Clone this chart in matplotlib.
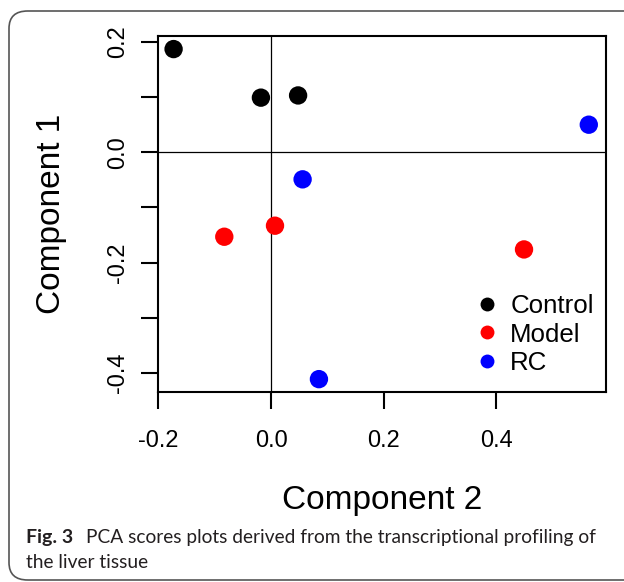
import matplotlib
matplotlib.use("Agg")
import matplotlib.pyplot as plt
from matplotlib.patches import FancyBboxPatch
from matplotlib.lines import Line2D

# Data (Component 2 on x, Component 1 on y)
groups = ["Control", "Model", "RC"]
colors = ["#000000", "#ff0000", "#0000ff"]
control_x = [-0.173, -0.018, 0.048]
control_y = [0.187, 0.099, 0.103]
model_x = [-0.083, 0.007, 0.449]
model_y = [-0.153, -0.133, -0.176]
rc_x = [0.056, 0.564, 0.085]
rc_y = [-0.049, 0.050, -0.411]
xticks = [-0.2, 0.0, 0.2, 0.4]
yticks_all = [-0.4, -0.3, -0.2, -0.1, 0.0, 0.1, 0.2]

W, H = 624, 582
fig = plt.figure(figsize=(W / 100, H / 100), dpi=100)
fig.patch.set_facecolor("white")

# rounded frame around figure
frame = FancyBboxPatch((9 / W, 2 / H), (W + 40) / W, (H - 11 - 2) / H,
                       boxstyle="round,pad=0,rounding_size=0.03",
                       transform=fig.transFigure, fill=False,
                       edgecolor="#555555", linewidth=1.2, clip_on=False)
fig.patches.append(frame)

ax = fig.add_axes([157.7 / W, (H - 392) / H, (605.7 - 157.7) / W, (392 - 36) / H])
font = "Liberation Sans"

xs = [control_x, model_x, rc_x]
ys = [control_y, model_y, rc_y]
for gx, gy, c in zip(xs, ys, colors):
    ax.scatter(gx, gy, s=175, color=c, edgecolors="none", zorder=3)

ax.axhline(0, color="black", lw=0.9, zorder=1)
ax.axvline(0, color="black", lw=0.9, zorder=1)

ax.set_xlim(-0.2012, 0.594)
ax.set_ylim(-0.4343, 0.2107)

ax.set_xticks(xticks)
ax.set_xticklabels(["%.1f" % v for v in xticks], fontsize=17, family=font)
ax.set_yticks(yticks_all)
ax.set_yticklabels(["%.1f" % v if round(v * 10) % 2 == 0 else "" for v in yticks_all],
                   fontsize=17, family=font, rotation=90, va="center")
ax.tick_params(axis="both", direction="out", length=12, width=1.5)
ax.tick_params(axis="x", pad=15.5)
ax.tick_params(axis="y", pad=8.5)
for s in ax.spines.values():
    s.set_linewidth(1.5)

ax.set_xlabel("Component 2", fontsize=24, family=font, labelpad=23.5)
ax.set_ylabel("Component 1", fontsize=24, family=font, labelpad=29)

handles = [Line2D([], [], marker="o", linestyle="none", markersize=10,
                  markerfacecolor=c, markeredgecolor="none") for c in colors]
ax.legend(handles, groups, loc="lower right", bbox_to_anchor=(1.031, -0.026),
          frameon=False, prop={"family": font, "size": 18.6},
          handletextpad=0.3, labelspacing=0.19, borderaxespad=0.6,
          handlelength=1.2)

# caption
cap_color = "#231f20"
fig.text(26 / W, 1 - 537 / H, "Fig. 3", fontsize=14, fontweight="bold",
         family="Lato", va="center", ha="left", color=cap_color)
fig.text(86 / W, 1 - 537 / H, "PCA scores plots derived from the transcriptional profiling of",
         fontsize=13.8, family="Lato", va="center", ha="left", color=cap_color)
fig.text(26 / W, 1 - 563 / H, "the liver tissue", fontsize=13.8, family="Lato",
         va="center", ha="left", color=cap_color)

fig.savefig("out.png", dpi=100)
